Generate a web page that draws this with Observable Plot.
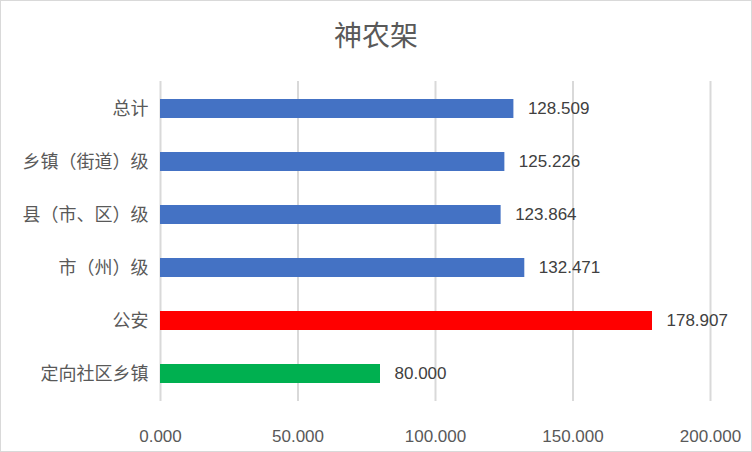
<!DOCTYPE html>
<html><head><meta charset="utf-8">
<script src="https://cdn.jsdelivr.net/npm/d3@7"></script>
<script src="https://cdn.jsdelivr.net/npm/@observablehq/plot@0.6"></script>
<style>
body{margin:0;background:#fff}
#c{width:752px;height:452px;box-sizing:border-box;border:1px solid #d9d9d9;background:#fff;overflow:hidden}
#t{height:79px;box-sizing:border-box;padding-top:18px;text-align:center;font:28px/30px "Noto Sans CJK SC";color:#595959}
svg{display:block}
</style></head><body>
<div id="c"><div id="t">神农架</div></div>
<script>
const categories = ["总计","乡镇（街道）级","县（市、区）级","市（州）级","公安","定向社区乡镇"];
const values = [128.509,125.226,123.864,132.471,178.907,80.000];
const groups = ["层级","层级","层级","层级","公安","定向"];
const xTicks = [0,50,100,150,200];
const data = categories.map((c,i)=>({category:c,value:values[i],group:groups[i]}));
const chart = Plot.plot({
  width:750,height:371,marginLeft:159,marginRight:41,marginTop:1,marginBottom:50,
  style:{background:"transparent",overflow:"visible"},
  x:{domain:[0,200],label:null},
  y:{domain:categories,paddingInner:0.644,paddingOuter:0.322,label:null},
  color:{domain:["层级","公安","定向"],range:["#4472C4","#FF0000","#00B050"]},
  marks:[
    Plot.ruleX(xTicks,{stroke:"#d9d9d9",strokeWidth:2}),
    Plot.barX(data,{x:"value",y:"category",fill:"group"}),
    Plot.text(data,{x:"value",y:"category",text:d=>d.value.toFixed(3),dx:14,textAnchor:"start",fill:"#404040",fontSize:17,fontFamily:"Liberation Sans"}),
    Plot.axisX({ticks:xTicks,tickFormat:d=>d.toFixed(3),tickSize:0,tickPadding:28,color:"#595959",fontSize:17,fontFamily:"Liberation Sans",label:null}),
    Plot.axisY({tickSize:0,tickPadding:12,color:"#595959",fontSize:18,fontFamily:"Noto Sans CJK SC",label:null})
  ]
});
document.getElementById("c").appendChild(chart);
</script>
</body></html>
